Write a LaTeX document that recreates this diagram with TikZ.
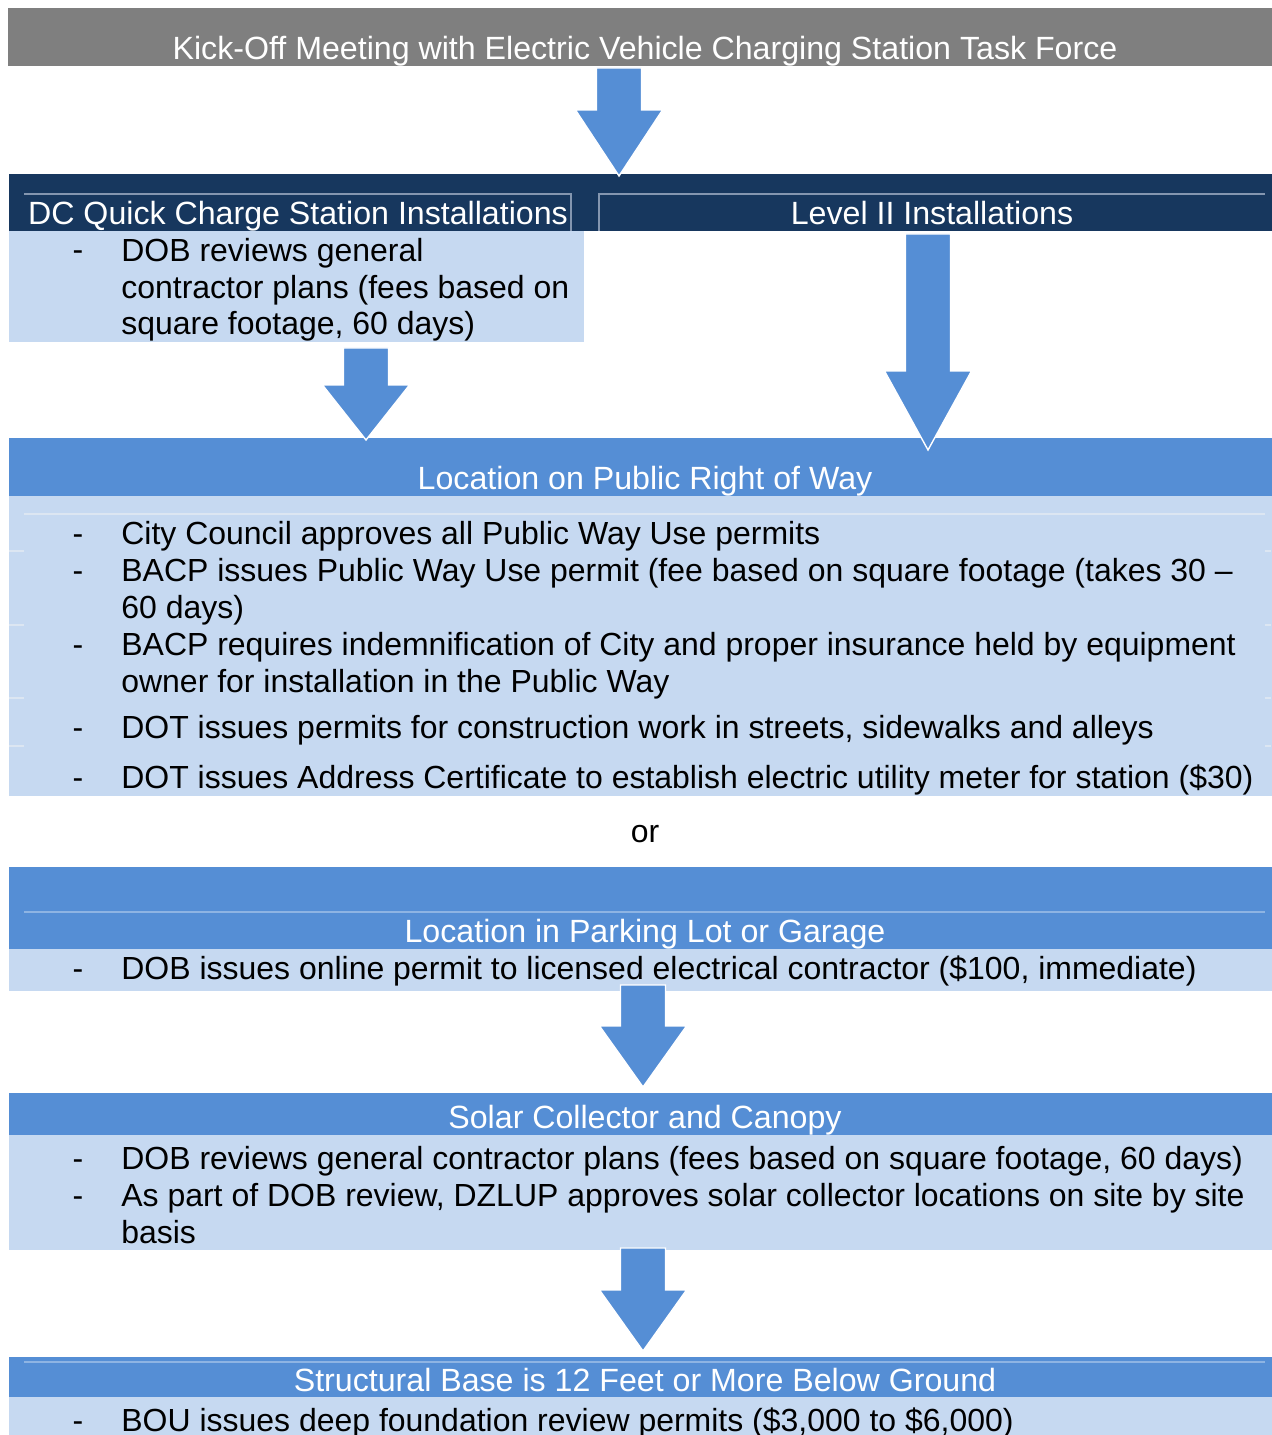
\documentclass[tikz,border=0pt]{standalone}
\usepackage{fontspec}
\setmainfont{Liberation Sans}
\usetikzlibrary{calc}
\definecolor{kickgray}{HTML}{7F7F7F}
\definecolor{navy}{HTML}{17375E}
\definecolor{midblue}{HTML}{558ED5}
\definecolor{paleblue}{HTML}{C6D9F1}
\definecolor{rulenavy}{HTML}{8496B0}
\definecolor{ruleblue}{HTML}{8EB4E3}
\definecolor{rulepale}{HTML}{DCE6F2}

\begin{document}
\begin{tikzpicture}
		[x=0.02cm, y=-0.02cm,
		band/.style={anchor=north west, inner sep=0, outer sep=0, minimum width=25.3cm},
		bandtext/.style={anchor=base, text=white, inner sep=0, font=\fontsize{18.3}{21}\selectfont},
		item/.style={anchor=base west, align=left, inner sep=0, font=\fontsize{18.2}{21}\selectfont},
		itemdash/.style={anchor=base, inner sep=0, font=\fontsize{18.2}{21}\selectfont},
		rule/.style={line width=0.6pt},
		blockarrow/.style={fill=midblue, draw=white, line width=0.8pt,
			to path={let \p1=(\tikztostart), \p2=(\tikztotarget) in
				(\x1-0.45cm,\y1) -- (\x1-0.45cm,\y2+#1) -- (\x1-0.87cm,\y2+#1) -- (\x2,\y2)
				-- (\x1+0.87cm,\y2+#1) -- (\x1+0.45cm,\y2+#1) -- (\x1+0.45cm,\y1) -- cycle}},
		blockarrow/.default=1.22cm]
		\useasboundingbox (0,0) rectangle (1271,1435);
		% boxes
		\node[band, fill=kickgray, minimum height=1.16cm] (kick) at (8,8) {};
		\node[band, fill=navy, minimum height=1.14cm] (install) at (9,174) {};
		\node[band, fill=paleblue, minimum height=2.22cm, minimum width=11.5cm] (dcbox) at (9,231) {};
		\node[band, fill=midblue, minimum height=1.16cm] (pubbar) at (9,438) {};
		\node[band, fill=paleblue, minimum height=6cm] (pubbox) at (9,496) {};
		\node[band, fill=midblue, minimum height=1.64cm] (lotbar) at (9,867) {};
		\node[band, fill=paleblue, minimum height=0.84cm] (lotbox) at (9,949) {};
		\node[band, fill=midblue, minimum height=0.84cm] (solarbar) at (9,1093) {};
		\node[band, fill=paleblue, minimum height=2.3cm] (solarbox) at (9,1135) {};
		\node[band, fill=midblue, minimum height=0.8cm] (basebar) at (9,1357) {};
		\node[band, fill=paleblue, minimum height=1cm] (basebox) at (9,1397) {};
		% faint table rules
		\draw[rule, rulenavy] (24,194) -- (571,194) -- (571,231);
		\draw[rule, rulenavy] (599,231) -- (599,194) -- (1265,194);
		\draw[rule, rulepale] (24,514) -- (1265,514);
		\foreach \y in {551,625,698,746}
		{
			\draw[rule, rulepale] (9,\y) -- (24,\y);
			\draw[rule, rulepale] (1265,\y) -- (1271,\y);
		}
		\draw[rule, ruleblue] (24,912) -- (1265,912);
		\draw[rule, ruleblue] (24,1362) -- (1265,1362);
		% headings
		\node[bandtext] (kicklabel) at (645,60) {Kick-Off Meeting with Electric Vehicle Charging Station Task Force};
		\node[bandtext] (dclabel) at (298,225) {DC Quick Charge Station Installations};
		\node[bandtext] (lvllabel) at (932,225) {Level II Installations};
		\node[bandtext] (publabel) at (645,489) {Location on Public Right of Way};
		\node[bandtext] (lotlabel) at (645,942) {Location in Parking Lot or Garage};
		\node[bandtext] (solarlabel) at (645,1128) {Solar Collector and Canopy};
		\node[bandtext] (baselabel) at (645,1391) {Structural Base is 12 Feet or More Below Ground};
		% items (base of a wrapped item is its last line)
		\foreach \y in {261,544,581,655,738,788,979,1169,1206,1431}
		\node[itemdash] (dash\y) at (78,\y) {-};
		\node[item] (dcitem) at (121,335) {DOB reviews general\\contractor plans (fees based on\\square footage, 60 days)};
		\node[item] (pub1) at (121,544) {City Council approves all Public Way Use permits};
		\node[item] (pub2) at (121,618) {BACP issues Public Way Use permit (fee based on square footage (takes 30 –\\60 days)};
		\node[item] (pub3) at (121,692) {BACP requires indemnification of City and proper insurance held by equipment\\owner for installation in the Public Way};
		\node[item] (pub4) at (121,738) {DOT issues permits for construction work in streets, sidewalks and alleys};
		\node[item] (pub5) at (121,788) {DOT issues Address Certificate to establish electric utility meter for station (\$30)};
		\node[itemdash] (orlabel) at (645,842) {or};
		\node[item] (lotitem) at (121,979) {DOB issues online permit to licensed electrical contractor (\$100, immediate)};
		\node[item] (solar1) at (121,1169) {DOB reviews general contractor plans (fees based on square footage, 60 days)};
		\node[item] (solar2) at (121,1243) {As part of DOB review, DZLUP approves solar collector locations on site by site\\basis};
		\node[item] (baseitem) at (121,1431) {BOU issues deep foundation review permits (\$3,000 to \$6,000)};
		% arrows
		\coordinate (col1) at (619,0);
		\coordinate (col2) at (366,0);
		\coordinate (col3) at (928,0);
		\coordinate (col4) at (643,0);
		\draw[blockarrow=1.32cm] ([yshift=-0.04cm]col1 |- kick.south) to ([yshift=-0.04cm]col1 |- install.north);
		\draw[blockarrow=1.1cm] ([yshift=-0.12cm]col2 |- dcbox.south) to ([yshift=-0.04cm]col2 |- pubbar.north);
		\draw[blockarrow=1.58cm] ([yshift=-0.06cm]col3 |- install.south) to ([yshift=-0.24cm]col3 |- pubbar.north);
		\draw[blockarrow] ([yshift=0.12cm]col4 |- lotbox.south) to ([yshift=0.12cm]col4 |- solarbar.north);
		\draw[blockarrow] ([yshift=0.04cm]col4 |- solarbox.south) to ([yshift=0.12cm]col4 |- basebar.north);
	\end{tikzpicture}
\end{document}
